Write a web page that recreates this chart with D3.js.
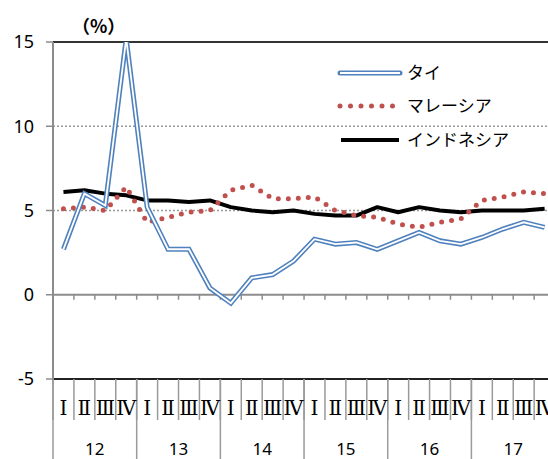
<!DOCTYPE html>
<html>
<head>
<meta charset="utf-8">
<script src="https://cdn.jsdelivr.net/npm/d3@7"></script>
<style>
  body { margin: 0; background: #fff; overflow: hidden; }
  svg { display: block; }
</style>
</head>
<body>
<div id="chart"></div>
<script>
const years = ["12", "13", "14", "15", "16", "17"];
const quarterLabels = ["Ⅰ", "Ⅱ", "Ⅲ", "Ⅳ"];
const yTicks = [-5, 0, 5, 10, 15];

const thailand = [2.7, 6.0, 5.3, 15.2, 5.2, 2.7, 2.7, 0.4, -0.5, 1.0, 1.2, 2.0,
                  3.3, 3.0, 3.1, 2.7, 3.2, 3.7, 3.2, 3.0, 3.4, 3.9, 4.3, 4.0];
const malaysia = [5.1, 5.2, 5.0, 6.4, 4.3, 4.6, 4.9, 5.0, 6.2, 6.5, 5.7, 5.7,
                  5.8, 5.0, 4.7, 4.6, 4.2, 4.0, 4.3, 4.5, 5.6, 5.8, 6.1, 6.0];
const indonesia = [6.1, 6.2, 6.0, 5.9, 5.6, 5.6, 5.5, 5.6, 5.2, 5.0, 4.9, 5.0,
                   4.8, 4.7, 4.7, 5.2, 4.9, 5.2, 5.0, 4.9, 5.0, 5.0, 5.0, 5.1];

const quarters = [];
years.forEach(y => quarterLabels.forEach(q => quarters.push(y + q)));

const width = 548, height = 459;
const left = 53, qw = 20.92;
const right = left + qw * quarters.length;

const svg = d3.select("#chart").append("svg")
  .attr("width", width).attr("height", height);

const x = d3.scaleBand().domain(quarters).range([left, right]);
const yearX = d3.scaleBand().domain(years).range([left, right]);
const y = d3.scaleLinear().domain([-5, 15]).range([379, 42]);
const cx = (d, i) => x(quarters[i]) + x.bandwidth() / 2;

const numFont = "'Noto Sans', 'DejaVu Sans', sans-serif";
const jpFont = "'Noto Sans CJK JP', sans-serif";

// gridlines
svg.append("line").attr("x1", left).attr("x2", width).attr("y1", y(15)).attr("y2", y(15))
  .attr("stroke", "#333").attr("stroke-width", 2);
[10, 5].forEach(v => {
  svg.append("line").attr("x1", left).attr("x2", width).attr("y1", y(v)).attr("y2", y(v))
    .attr("stroke", "#999").attr("stroke-width", 1.5).attr("stroke-dasharray", "2,2");
});

// zero line with quarter ticks
svg.append("line").attr("x1", left).attr("x2", width).attr("y1", y(0)).attr("y2", y(0))
  .attr("stroke", "#8c8c8c").attr("stroke-width", 2);
svg.selectAll(".zt").data(quarters.slice(1)).enter().append("line")
  .attr("x1", d => x(d)).attr("x2", d => x(d))
  .attr("y1", y(0)).attr("y2", y(0) + 5)
  .attr("stroke", "#8c8c8c").attr("stroke-width", 1.5);

// bottom axis
svg.append("line").attr("x1", left).attr("x2", width).attr("y1", y(-5)).attr("y2", y(-5))
  .attr("stroke", "#222").attr("stroke-width", 2);
svg.selectAll(".qs").data(quarters).enter().append("line")
  .attr("x1", d => x(d)).attr("x2", d => x(d))
  .attr("y1", y(-5)).attr("y2", 420)
  .attr("stroke", "#9a9a9a").attr("stroke-width", 1.5);
svg.selectAll(".ys").data(years).enter().append("line")
  .attr("x1", d => yearX(d)).attr("x2", d => yearX(d))
  .attr("y1", y(-5)).attr("y2", height)
  .attr("stroke", "#9a9a9a").attr("stroke-width", 1.5);
svg.selectAll(".ql").data(quarters).enter().append("text")
  .attr("x", d => x(d) + x.bandwidth() / 2).attr("y", 415)
  .attr("text-anchor", "middle")
  .style("font-family", "'DejaVu Serif', 'Liberation Serif', serif")
  .style("font-size", "20px")
  .text((d, i) => quarterLabels[i % 4]);
svg.selectAll(".yl").data(years).enter().append("text")
  .attr("x", d => yearX(d) + yearX.bandwidth() / 2).attr("y", 455)
  .attr("text-anchor", "middle")
  .style("font-family", numFont).style("font-size", "17px")
  .text(d => d);

// y axis
svg.append("line").attr("x1", left).attr("x2", left).attr("y1", y(15)).attr("y2", y(-5))
  .attr("stroke", "#8c8c8c").attr("stroke-width", 2);
svg.selectAll(".yt").data(yTicks).enter().append("line")
  .attr("x1", left - 7).attr("x2", left).attr("y1", d => y(d)).attr("y2", d => y(d))
  .attr("stroke", "#8c8c8c").attr("stroke-width", 1.5);
svg.selectAll(".ytl").data(yTicks).enter().append("text")
  .attr("x", 34).attr("y", d => y(d)).attr("dy", "0.35em")
  .attr("text-anchor", "end")
  .style("font-family", numFont).style("font-size", "18px")
  .text(d => d);

svg.append("text").attr("x", 72).attr("y", 33)
  .style("font-family", jpFont).style("font-size", "18px").style("font-weight", "bold")
  .text("（%）");

// lines
const line = d3.line().x(cx).y(d => y(d));
svg.append("clipPath").attr("id", "clip").append("rect")
  .attr("x", left).attr("y", y(15)).attr("width", right - left).attr("height", y(-5) - y(15));
const g = svg.append("g").attr("clip-path", "url(#clip)");

g.append("path").datum(indonesia).attr("d", line)
  .attr("fill", "none").attr("stroke", "#000").attr("stroke-width", 4).attr("stroke-linejoin", "round");
g.append("path").datum(malaysia).attr("d", line)
  .attr("fill", "none").attr("stroke", "#c0504d").attr("stroke-width", 5)
  .attr("stroke-linecap", "round").attr("stroke-dasharray", "0,10");
g.append("path").datum(thailand).attr("d", line)
  .attr("fill", "none").attr("stroke", "#4f81bd").attr("stroke-width", 5);
g.append("path").datum(thailand).attr("d", line)
  .attr("fill", "none").attr("stroke", "#fff").attr("stroke-width", 1.8);

// legend
const lg = svg.append("g");
lg.append("line").attr("x1", 340).attr("x2", 400).attr("y1", 73).attr("y2", 73)
  .attr("stroke", "#4f81bd").attr("stroke-width", 5).attr("stroke-linecap", "round");
lg.append("line").attr("x1", 340).attr("x2", 400).attr("y1", 73).attr("y2", 73)
  .attr("stroke", "#fff").attr("stroke-width", 1.8);
lg.append("line").attr("x1", 340).attr("x2", 396).attr("y1", 106).attr("y2", 106)
  .attr("stroke", "#c0504d").attr("stroke-width", 5)
  .attr("stroke-linecap", "round").attr("stroke-dasharray", "0,10.5");
lg.append("line").attr("x1", 341).attr("x2", 399).attr("y1", 140).attr("y2", 140)
  .attr("stroke", "#000").attr("stroke-width", 4);
[["タイ", 73], ["マレーシア", 106], ["インドネシア", 140]].forEach(([t, yy]) => {
  lg.append("text").attr("x", 407).attr("y", yy).attr("dy", "0.38em")
    .style("font-family", jpFont).style("font-size", "17px").text(t);
});
</script>
</body>
</html>
